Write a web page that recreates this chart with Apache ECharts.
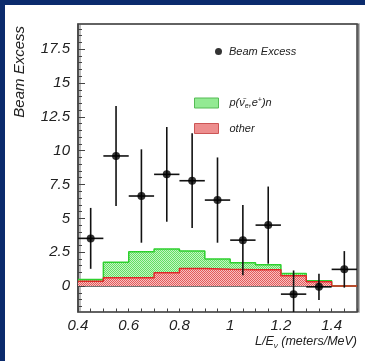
<!DOCTYPE html>
<html>
<head>
<meta charset="utf-8">
<script src="https://cdn.jsdelivr.net/npm/echarts@6/dist/echarts.min.js"></script>
<style>
html,body{margin:0;padding:0;background:#0b2b6d;width:100%;height:100%;overflow:hidden;}
#panel{position:absolute;left:5px;top:5px;right:0;bottom:0;background:#ffffff;}
#chart{position:absolute;left:0;top:0;width:360px;height:356px;}
</style>
</head>
<body>
<div id="panel"><div id="chart"></div></div>
<script>
// ---- data ----
const binLow      = [0.4, 0.5, 0.6, 0.7, 0.8, 0.9, 1.0, 1.1, 1.2, 1.3, 1.4];
const binHigh     = 1.5;
const binCenters  = [0.45, 0.55, 0.65, 0.75, 0.85, 0.95, 1.05, 1.15, 1.25, 1.35, 1.45];
const binHalfWidth = [0.05, 0.05, 0.05, 0.05, 0.05, 0.05, 0.05, 0.05, 0.05, 0.05, 0.05];
const beamExcess  = [3.52, 9.61, 6.65, 8.25, 7.78, 6.35, 3.39, 4.50, -0.60, -0.06, 1.23];
const beamError   = [2.25, 3.70, 3.45, 3.50, 3.50, 3.15, 2.60, 2.85, 1.75, 0.97, 1.35];
const otherBkg    = [0.35, 0.61, 0.61, 0.98, 1.30, 1.23, 1.20, 1.20, 0.76, 0.31, 0.00];
const oscSignal   = [0.14, 1.14, 1.92, 1.75, 1.28, 0.76, 0.52, 0.37, 0.17, 0.08, 0.00];
const yTickLabels = [0, 2.5, 5, 7.5, 10, 12.5, 15, 17.5];
const xTickLabels = [0.4, 0.6, 0.8, 1.0, 1.2, 1.4];
const yRange = [-1.92, 19.36];
const xRange = [0.4, 1.5];

const nameBeam = 'Beam Excess';
const nameSig = 'p(ν̄e,e+)n';
const nameOther = 'other';

// ---- helpers ----
function pattern(c1, c2) {
  const cv = document.createElement('canvas');
  cv.width = 2; cv.height = 2;
  const g = cv.getContext('2d');
  g.fillStyle = c2; g.fillRect(0, 0, 2, 2);
  g.fillStyle = c1; g.fillRect(0, 0, 1, 1); g.fillRect(1, 1, 1, 1);
  return { image: cv, repeat: 'repeat' };
}
const greenPat = pattern('#62e062', '#c4f4c4');
const redPat = pattern('#e45a5a', '#f6c2c2');

function stepData(vals) {
  const d = binLow.map((x, i) => [x, vals[i]]);
  d.push([binHigh, vals[vals.length - 1]]);
  return d;
}
// stacked total (signal on top of background)
const stackTotal = otherBkg.map((v, i) => v + oscSignal[i]);

const yMinor = [];
for (let v = -1.5; v <= 19.01; v += 0.5) yMinor.push(Math.round(v * 10) / 10);
const xMinor = [];
for (let v = 0.4; v <= 1.501; v += 0.05) xMinor.push(Math.round(v * 100) / 100);

const labelFont = { fontFamily: 'Liberation Sans', fontStyle: 'italic', fontSize: 15, color: '#222' };
const axisLineStyle = { color: '#444', width: 1.5 };

const chart = echarts.init(document.getElementById('chart'), null, { renderer: 'canvas' });
chart.setOption({
  animation: false,
  backgroundColor: '#ffffff',
  grid: {
    left: 73, top: 19, right: 8, bottom: 49,
    outerBoundsMode: 'none', containLabel: false,
    show: true, borderColor: '#444', borderWidth: 1.5, backgroundColor: '#fff',
    shadowColor: 'rgba(0,0,0,0.35)', shadowOffsetX: 2, shadowOffsetY: 0, shadowBlur: 0
  },
  xAxis: [{
    type: 'value', min: xRange[0], max: xRange[1], position: 'bottom',
    axisLine: { show: true, lineStyle: axisLineStyle },
    axisTick: { show: true, inside: true, length: 6, customValues: xTickLabels, lineStyle: { color: '#444', width: 1 } },
    axisLabel: Object.assign({ show: true, margin: 6, customValues: xTickLabels, formatter: v => String(Math.round(v * 10) / 10) }, labelFont),
    splitLine: { show: false }
  }, {
    type: 'value', min: xRange[0], max: xRange[1], position: 'top', offset: -288,
    axisLine: { show: false },
    axisTick: { show: true, inside: false, length: 3.5, customValues: xMinor, lineStyle: { color: '#444', width: 1 } },
    axisLabel: { show: false },
    splitLine: { show: false }
  }],
  yAxis: [{
    type: 'value', min: yRange[0], max: yRange[1], position: 'left',
    axisLine: { show: true, lineStyle: axisLineStyle },
    axisTick: { show: true, inside: true, length: 7, customValues: yTickLabels, lineStyle: { color: '#444', width: 1 } },
    axisLabel: Object.assign({ show: true, margin: 8, customValues: yTickLabels }, labelFont),
    splitLine: { show: false }
  }, {
    type: 'value', min: yRange[0], max: yRange[1], position: 'right', offset: -279,
    axisLine: { show: false },
    axisTick: { show: true, inside: false, length: 4, customValues: yMinor, lineStyle: { color: '#444', width: 1 } },
    axisLabel: { show: false },
    splitLine: { show: false }
  }],
  legend: [{
    data: [{ name: nameBeam, icon: 'circle' }],
    left: 210, top: 41, padding: 0, itemWidth: 7, itemHeight: 7, selectedMode: false,
    textStyle: { fontFamily: 'Liberation Sans', fontStyle: 'italic', fontSize: 11, color: '#222', padding: [0, 0, 0, 2] }
  }, {
    data: [{ name: nameSig, icon: 'rect', itemStyle: { color: greenPat, borderColor: '#55bb55', borderWidth: 1 } }],
    left: 189, top: 92, padding: 0, itemWidth: 24, itemHeight: 10, selectedMode: false,
    formatter: () => 'p(ν̄{sub|e},e{sup|+})n',
    textStyle: {
      fontFamily: 'Liberation Sans', fontStyle: 'italic', fontSize: 11, color: '#222', padding: [0, 0, 0, 6],
      rich: {
        sub: { fontFamily: 'Liberation Sans', fontStyle: 'italic', fontSize: 7, color: '#222', padding: [6, 0, 0, 0] },
        sup: { fontFamily: 'Liberation Sans', fontStyle: 'italic', fontSize: 7, color: '#222', padding: [0, 0, 5, 0] }
      }
    }
  }, {
    data: [{ name: nameOther, icon: 'rect', itemStyle: { color: redPat, borderColor: '#cc5555', borderWidth: 1 } }],
    left: 189, top: 118, padding: 0, itemWidth: 24, itemHeight: 10, selectedMode: false,
    textStyle: { fontFamily: 'Liberation Sans', fontStyle: 'italic', fontSize: 11, color: '#222', padding: [0, 0, 0, 6] }
  }],
  graphic: [{
    type: 'text', x: 15, y: 21, rotation: Math.PI / 2,
    style: { text: 'Beam Excess', fontFamily: 'Liberation Sans', fontStyle: 'italic', fontSize: 15, fill: '#222', align: 'right', verticalAlign: 'middle' }
  }, {
    type: 'text', x: 352, y: 337,
    style: {
      text: 'L/E{sub|ν} (meters/MeV)', fontFamily: 'Liberation Sans', fontStyle: 'italic', fontSize: 12.5, fill: '#222',
      align: 'right', verticalAlign: 'middle',
      rich: { sub: { fontFamily: 'Liberation Sans', fontStyle: 'italic', fontSize: 8, fill: '#222', padding: [8, 0, 0, 0] } }
    }
  }],
  series: [{
    name: nameSig, type: 'line', step: 'end',
    data: stepData(stackTotal), showSymbol: false, symbol: 'none',
    lineStyle: { color: '#2ed02e', width: 1.5 },
    itemStyle: { color: '#2ed02e' },
    areaStyle: { color: greenPat, opacity: 1, origin: 0 },
    z: 1
  }, {
    name: nameOther, type: 'line', step: 'end',
    data: stepData(otherBkg), showSymbol: false, symbol: 'none',
    lineStyle: { color: '#e02828', width: 1.5 },
    itemStyle: { color: '#e02828' },
    areaStyle: { color: redPat, opacity: 1, origin: 0 },
    z: 2
  }, {
    name: 'errors', type: 'custom', clip: true, z: 5,
    data: binCenters.map((x, i) => [x, beamExcess[i], beamError[i], binHalfWidth[i]]),
    encode: { x: 0, y: 1 },
    renderItem: function (params, api) {
      const x = api.value(0), y = api.value(1), e = api.value(2), w = api.value(3);
      const top = api.coord([x, y + e]), bot = api.coord([x, y - e]);
      const l = api.coord([x - w, y]), r = api.coord([x + w, y]);
      const st = { stroke: '#111', lineWidth: 1.6 };
      return {
        type: 'group', children: [
          { type: 'line', shape: { x1: top[0], y1: top[1], x2: bot[0], y2: bot[1] }, style: st },
          { type: 'line', shape: { x1: l[0], y1: l[1], x2: r[0], y2: r[1] }, style: st }
        ]
      };
    }
  }, {
    name: nameBeam, type: 'scatter', z: 6,
    data: binCenters.map((x, i) => [x, beamExcess[i]]),
    symbol: 'circle', symbolSize: 8,
    itemStyle: { color: '#000' }
  }]
});
</script>
</body>
</html>
